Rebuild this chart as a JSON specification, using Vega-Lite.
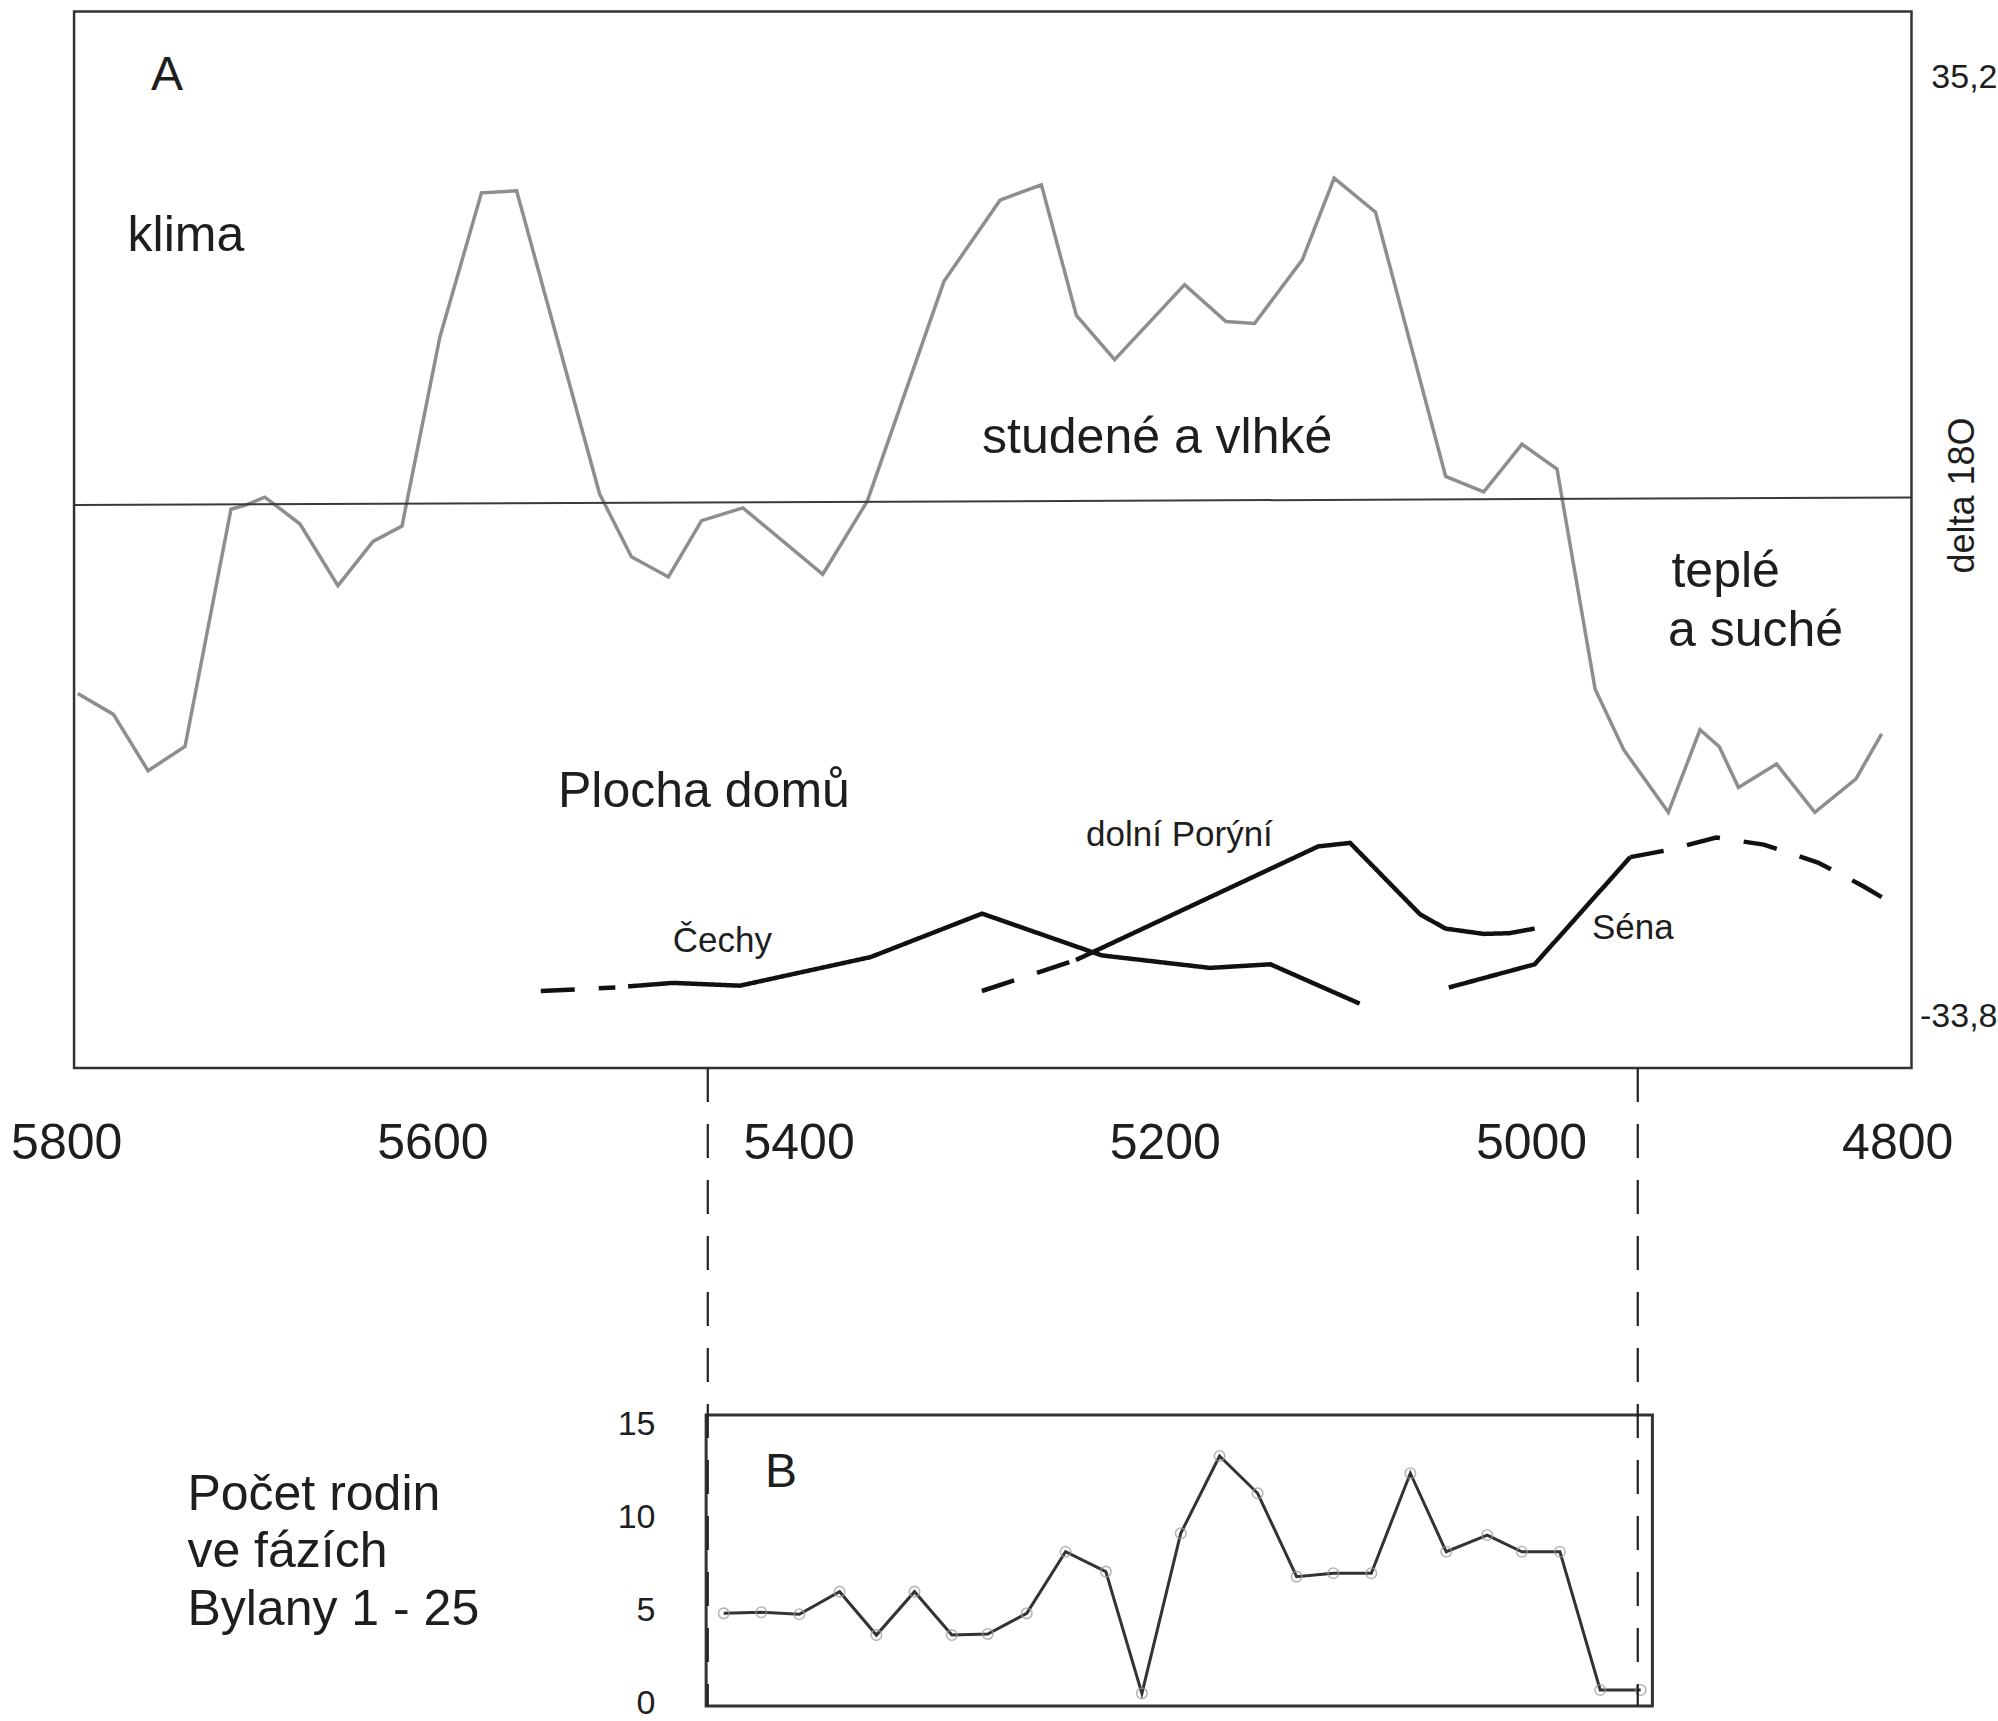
{
  "$schema": "https://vega.github.io/schema/vega-lite/v6.json",
  "width": 1998,
  "height": 1721,
  "autosize": {"type": "none"},
  "padding": 0,
  "background": "#ffffff",
  "config": {
    "view": {"stroke": null},
    "axis": {"labelColor": "#1e1e1e", "titleColor": "#1e1e1e", "grid": false, "domain": false, "ticks": false},
    "text": {"font": "Liberation Sans", "color": "#1e1e1e", "align": "left", "baseline": "alphabetic"}
  },
  "datasets": {
    "klima": [
      {"year": 5793.7, "d18O": -34.281}, {"year": 5774.2, "d18O": -34.250}, {"year": 5755.3, "d18O": -34.166},
      {"year": 5735.1, "d18O": -34.202}, {"year": 5710.0, "d18O": -34.556}, {"year": 5702.1, "d18O": -34.562},
      {"year": 5691.6, "d18O": -34.574}, {"year": 5688.1, "d18O": -34.567}, {"year": 5672.3, "d18O": -34.534},
      {"year": 5651.6, "d18O": -34.442}, {"year": 5632.4, "d18O": -34.508}, {"year": 5616.6, "d18O": -34.531},
      {"year": 5595.9, "d18O": -34.813}, {"year": 5573.2, "d18O": -35.028}, {"year": 5554.0, "d18O": -35.031},
      {"year": 5508.7, "d18O": -34.579}, {"year": 5491.3, "d18O": -34.485}, {"year": 5471.1, "d18O": -34.455},
      {"year": 5453.0, "d18O": -34.539}, {"year": 5430.4, "d18O": -34.558}, {"year": 5386.8, "d18O": -34.459},
      {"year": 5362.5, "d18O": -34.568}, {"year": 5320.6, "d18O": -34.896}, {"year": 5290.0, "d18O": -35.017},
      {"year": 5267.4, "d18O": -35.040}, {"year": 5248.3, "d18O": -34.845}, {"year": 5227.4, "d18O": -34.779},
      {"year": 5189.2, "d18O": -34.891}, {"year": 5166.6, "d18O": -34.836}, {"year": 5151.0, "d18O": -34.833},
      {"year": 5124.9, "d18O": -34.928}, {"year": 5107.5, "d18O": -35.050}, {"year": 5084.9, "d18O": -34.999},
      {"year": 5046.6, "d18O": -34.605}, {"year": 5025.8, "d18O": -34.582}, {"year": 5004.9, "d18O": -34.653},
      {"year": 4985.8, "d18O": -34.616}, {"year": 4965.0, "d18O": -34.288}, {"year": 4949.3, "d18O": -34.197},
      {"year": 4925.0, "d18O": -34.104}, {"year": 4907.7, "d18O": -34.227}, {"year": 4897.2, "d18O": -34.202},
      {"year": 4886.7, "d18O": -34.141}, {"year": 4865.9, "d18O": -34.176}, {"year": 4845.0, "d18O": -34.104},
      {"year": 4822.5, "d18O": -34.154}, {"year": 4808.5, "d18O": -34.221}
    ],
    "plocha": [
      {"region": "Čechy", "kind": "odhad", "year": 5540.8, "area": 7.69},
      {"region": "Čechy", "kind": "odhad", "year": 5500.1, "area": 8.05},
      {"region": "Čechy", "kind": "doloženo", "year": 5493.1, "area": 8.16},
      {"region": "Čechy", "kind": "doloženo", "year": 5468.7, "area": 8.51},
      {"region": "Čechy", "kind": "doloženo", "year": 5432.1, "area": 8.23},
      {"region": "Čechy", "kind": "doloženo", "year": 5360.7, "area": 11.09},
      {"region": "Čechy", "kind": "doloženo", "year": 5299.8, "area": 15.44},
      {"region": "Čechy", "kind": "doloženo", "year": 5234.4, "area": 11.26},
      {"region": "Čechy", "kind": "doloženo", "year": 5175.3, "area": 10.01},
      {"region": "Čechy", "kind": "doloženo", "year": 5142.3, "area": 10.37},
      {"region": "Čechy", "kind": "doloženo", "year": 5093.6, "area": 6.44},
      {"region": "dolní Porýní", "kind": "odhad", "year": 5299.9, "area": 7.7},
      {"region": "dolní Porýní", "kind": "odhad", "year": 5248.5, "area": 10.8},
      {"region": "dolní Porýní", "kind": "doloženo", "year": 5248.5, "area": 10.8},
      {"region": "dolní Porýní", "kind": "doloženo", "year": 5116.2, "area": 22.16},
      {"region": "dolní Porýní", "kind": "doloženo", "year": 5098.8, "area": 22.51},
      {"region": "dolní Porýní", "kind": "doloženo", "year": 5060.6, "area": 15.37},
      {"region": "dolní Porýní", "kind": "doloženo", "year": 5046.7, "area": 13.94},
      {"region": "dolní Porýní", "kind": "doloženo", "year": 5025.8, "area": 13.41},
      {"region": "dolní Porýní", "kind": "doloženo", "year": 5011.9, "area": 13.48},
      {"region": "dolní Porýní", "kind": "doloženo", "year": 4998.0, "area": 13.94},
      {"region": "Séna", "kind": "doloženo", "year": 5044.9, "area": 8.05},
      {"region": "Séna", "kind": "doloženo", "year": 4998.0, "area": 10.37},
      {"region": "Séna", "kind": "doloženo", "year": 4945.8, "area": 21.09},
      {"region": "Séna", "kind": "odhad", "year": 4945.8, "area": 21.09},
      {"region": "Séna", "kind": "odhad", "year": 4925.0, "area": 21.8},
      {"region": "Séna", "kind": "odhad", "year": 4898.9, "area": 23.05},
      {"region": "Séna", "kind": "odhad", "year": 4872.9, "area": 22.34},
      {"region": "Séna", "kind": "odhad", "year": 4843.3, "area": 20.55},
      {"region": "Séna", "kind": "odhad", "year": 4819.0, "area": 18.23},
      {"region": "Séna", "kind": "odhad", "year": 4799.9, "area": 16.16}
    ],
    "bylany": [
      {"phase": 1, "year": 5440.9, "families": 4.84}, {"phase": 2, "year": 5420.4, "families": 4.9},
      {"phase": 3, "year": 5399.6, "families": 4.79}, {"phase": 4, "year": 5377.6, "families": 6.01},
      {"phase": 5, "year": 5357.5, "families": 3.67}, {"phase": 6, "year": 5336.7, "families": 6.01},
      {"phase": 7, "year": 5316.3, "families": 3.67}, {"phase": 8, "year": 5296.7, "families": 3.73},
      {"phase": 9, "year": 5275.4, "families": 4.84}, {"phase": 10, "year": 5254.2, "families": 8.16},
      {"phase": 11, "year": 5232.2, "families": 7.09}, {"phase": 12, "year": 5212.5, "families": 0.53},
      {"phase": 13, "year": 5191.3, "families": 9.15}, {"phase": 14, "year": 5170.1, "families": 13.32},
      {"phase": 15, "year": 5149.3, "families": 11.31}, {"phase": 16, "year": 5128.0, "families": 6.82},
      {"phase": 17, "year": 5108.0, "families": 7.0}, {"phase": 18, "year": 5087.2, "families": 7.0},
      {"phase": 19, "year": 5065.9, "families": 12.39}, {"phase": 20, "year": 5046.3, "families": 8.16},
      {"phase": 21, "year": 5023.9, "families": 9.06}, {"phase": 22, "year": 5005.0, "families": 8.16},
      {"phase": 23, "year": 4984.2, "families": 8.16}, {"phase": 24, "year": 4962.2, "families": 0.71},
      {"phase": 25, "year": 4940.1, "families": 0.71}
    ],
    "hranice": [
      {"mez": "začátek fází", "year": 5449.6},
      {"mez": "konec fází", "year": 4941.7}
    ]
  },
  "layer": [
    {
      "data": {"name": "klima"},
      "mark": {"type": "line", "color": "#8e8e8e", "strokeWidth": 3.5},
      "encoding": {
        "x": {
          "field": "year", "type": "quantitative",
          "scale": {"domain": [4744.95, 5836.15], "reverse": true, "nice": false, "zero": false},
          "axis": {"orient": "bottom", "offset": -653, "values": [5800, 5600, 5400, 5200, 5000, 4800], "format": "d", "labelFontSize": 50, "labelPadding": 50, "labelFlush": false, "labelOverlap": false, "labelFont": "Liberation Sans", "title": null}
        },
        "y": {
          "field": "d18O", "type": "quantitative",
          "scale": {"domain": [-35.3156, -32.7485], "reverse": true, "nice": false, "zero": false},
          "axis": {"orient": "right", "offset": -87, "values": [-35.2, -33.8], "labelExpr": "datum.value < -35 ? '35,2' : '-33,8'", "labelFontSize": 34, "labelAlign": "right", "labelPadding": 86, "labelFont": "Liberation Sans", "title": "delta 18O", "titleFont": "Liberation Sans", "titleFontSize": 36, "titleFontWeight": "normal", "titleAngle": 270, "titleX": 51, "titleY": 495, "titleAlign": "center", "titleBaseline": "middle"}
        }
      }
    },
    {
      "data": {"values": [{}]},
      "mark": {"type": "rule", "color": "#3a3a3a", "strokeWidth": 2},
      "encoding": {
        "x": {"datum": 5795.7, "type": "quantitative"}, "x2": {"datum": 4792.2},
        "y": {"datum": -34.5623, "type": "quantitative", "scale": {"domain": [-35.3156, -32.7485], "reverse": true, "nice": false, "zero": false}, "axis": null}, "y2": {"datum": -34.5735}
      }
    },
    {
      "data": {"values": [{}]},
      "mark": {"type": "rect", "filled": false, "color": "#333333", "strokeWidth": 2.5},
      "encoding": {
        "x": {"datum": 5795.7, "type": "quantitative"}, "x2": {"datum": 4792.2},
        "y": {"datum": -35.2985, "type": "quantitative", "scale": {"domain": [-35.3156, -32.7485], "reverse": true, "nice": false, "zero": false}, "axis": null}, "y2": {"datum": -33.7227}
      }
    },
    {
      "data": {"values": [{}]},
      "mark": {"type": "text", "fontSize": 48},
      "encoding": {
        "x": {"datum": 5753.7, "type": "quantitative"},
        "y": {"datum": -35.1814, "type": "quantitative", "scale": {"domain": [-35.3156, -32.7485], "reverse": true, "nice": false, "zero": false}, "axis": null},
        "text": {"value": "A"}
      }
    },
    {
      "data": {"values": [{}]},
      "mark": {"type": "text", "fontSize": 50},
      "encoding": {
        "x": {"datum": 5766.5, "type": "quantitative"},
        "y": {"datum": -34.9412, "type": "quantitative", "scale": {"domain": [-35.3156, -32.7485], "reverse": true, "nice": false, "zero": false}, "axis": null},
        "text": {"value": "klima"}
      }
    },
    {
      "data": {"values": [{}]},
      "mark": {"type": "text", "fontSize": 50},
      "encoding": {
        "x": {"datum": 5299.8, "type": "quantitative"},
        "y": {"datum": -34.6399, "type": "quantitative", "scale": {"domain": [-35.3156, -32.7485], "reverse": true, "nice": false, "zero": false}, "axis": null},
        "text": {"value": "studené a vlhké"}
      }
    },
    {
      "data": {"values": [{}]},
      "mark": {"type": "text", "fontSize": 50},
      "encoding": {
        "x": {"datum": 4923.3, "type": "quantitative"},
        "y": {"datum": -34.44, "type": "quantitative", "scale": {"domain": [-35.3156, -32.7485], "reverse": true, "nice": false, "zero": false}, "axis": null},
        "text": {"value": "teplé"}
      }
    },
    {
      "data": {"values": [{}]},
      "mark": {"type": "text", "fontSize": 50},
      "encoding": {
        "x": {"datum": 4925.2, "type": "quantitative"},
        "y": {"datum": -34.3514, "type": "quantitative", "scale": {"domain": [-35.3156, -32.7485], "reverse": true, "nice": false, "zero": false}, "axis": null},
        "text": {"value": "a suché"}
      }
    },
    {
      "data": {"name": "plocha"},
      "mark": {"type": "line", "color": "#111111", "strokeWidth": 4.5, "strokeCap": "butt"},
      "encoding": {
        "x": {"field": "year", "type": "quantitative"},
        "y": {"field": "area", "type": "quantitative", "scale": {"domain": [-65.3, 106.8], "nice": false, "zero": false}, "axis": null},
        "detail": {"field": "region", "type": "nominal"},
        "strokeDash": {"field": "kind", "type": "nominal", "scale": {"domain": ["doloženo", "odhad"], "range": [[1, 0], [34, 24]]}, "legend": null}
      }
    },
    {
      "data": {"values": [{}]},
      "mark": {"type": "text", "fontSize": 50},
      "encoding": {
        "x": {"datum": 5531.4, "type": "quantitative"},
        "y": {"datum": 26.1, "type": "quantitative", "scale": {"domain": [-65.3, 106.8], "nice": false, "zero": false}, "axis": null},
        "text": {"value": "Plocha domů"}
      }
    },
    {
      "data": {"values": [{}]},
      "mark": {"type": "text", "fontSize": 35},
      "encoding": {
        "x": {"datum": 5468.7, "type": "quantitative"},
        "y": {"datum": 11.62, "type": "quantitative", "scale": {"domain": [-65.3, 106.8], "nice": false, "zero": false}, "axis": null},
        "text": {"value": "Čechy"}
      }
    },
    {
      "data": {"values": [{}]},
      "mark": {"type": "text", "fontSize": 35},
      "encoding": {
        "x": {"datum": 5243.0, "type": "quantitative"},
        "y": {"datum": 22.23, "type": "quantitative", "scale": {"domain": [-65.3, 106.8], "nice": false, "zero": false}, "axis": null},
        "text": {"value": "dolní Porýní"}
      }
    },
    {
      "data": {"values": [{}]},
      "mark": {"type": "text", "fontSize": 35},
      "encoding": {
        "x": {"datum": 4966.7, "type": "quantitative"},
        "y": {"datum": 12.9, "type": "quantitative", "scale": {"domain": [-65.3, 106.8], "nice": false, "zero": false}, "axis": null},
        "text": {"value": "Séna"}
      }
    },
    {
      "data": {"name": "bylany"},
      "mark": {"type": "line", "color": "#333333", "strokeWidth": 3},
      "encoding": {
        "x": {"field": "year", "type": "quantitative"},
        "y": {
          "field": "families", "type": "quantitative",
          "scale": {"domain": [-0.959, 91.77], "nice": false, "zero": false},
          "axis": {"orient": "left", "offset": -706, "values": [0, 5, 10, 15], "labelFontSize": 34, "labelPadding": 51, "labelFont": "Liberation Sans", "title": null}
        }
      }
    },
    {
      "data": {"name": "bylany"},
      "mark": {"type": "point", "shape": "circle", "filled": false, "color": "#9a9a9a", "size": 110, "strokeWidth": 1.6},
      "encoding": {
        "x": {"field": "year", "type": "quantitative"},
        "y": {"field": "families", "type": "quantitative", "scale": {"domain": [-0.959, 91.77], "nice": false, "zero": false}, "axis": null}
      }
    },
    {
      "data": {"values": [{}]},
      "mark": {"type": "rect", "filled": false, "color": "#333333", "strokeWidth": 3},
      "encoding": {
        "x": {"datum": 5450.5, "type": "quantitative"}, "x2": {"datum": 4933.7},
        "y": {"datum": 15.53, "type": "quantitative", "scale": {"domain": [-0.959, 91.77], "nice": false, "zero": false}, "axis": null}, "y2": {"datum": -0.151}
      }
    },
    {
      "data": {"name": "hranice"},
      "mark": {"type": "rule", "color": "#222222", "strokeWidth": 2.2, "strokeDash": [34, 22]},
      "encoding": {
        "x": {"field": "year", "type": "quantitative"},
        "y": {"datum": 34.22, "type": "quantitative", "scale": {"domain": [-0.959, 91.77], "nice": false, "zero": false}, "axis": null}, "y2": {"datum": -0.15}
      }
    },
    {
      "data": {"values": [{}]},
      "mark": {"type": "text", "fontSize": 48},
      "encoding": {
        "x": {"datum": 5418.4, "type": "quantitative"},
        "y": {"datum": 11.63, "type": "quantitative", "scale": {"domain": [-0.959, 91.77], "nice": false, "zero": false}, "axis": null},
        "text": {"value": "B"}
      }
    },
    {
      "data": {"values": [{}]},
      "mark": {"type": "text", "fontSize": 50},
      "encoding": {
        "x": {"datum": 5733.8, "type": "quantitative"},
        "y": {"datum": 10.41, "type": "quantitative", "scale": {"domain": [-0.959, 91.77], "nice": false, "zero": false}, "axis": null},
        "text": {"value": "Počet rodin"}
      }
    },
    {
      "data": {"values": [{}]},
      "mark": {"type": "text", "fontSize": 50},
      "encoding": {
        "x": {"datum": 5733.8, "type": "quantitative"},
        "y": {"datum": 7.34, "type": "quantitative", "scale": {"domain": [-0.959, 91.77], "nice": false, "zero": false}, "axis": null},
        "text": {"value": "ve fázích"}
      }
    },
    {
      "data": {"values": [{}]},
      "mark": {"type": "text", "fontSize": 50},
      "encoding": {
        "x": {"datum": 5733.8, "type": "quantitative"},
        "y": {"datum": 4.23, "type": "quantitative", "scale": {"domain": [-0.959, 91.77], "nice": false, "zero": false}, "axis": null},
        "text": {"value": "Bylany 1 - 25"}
      }
    }
  ],
  "resolve": {"scale": {"y": "independent"}}
}
